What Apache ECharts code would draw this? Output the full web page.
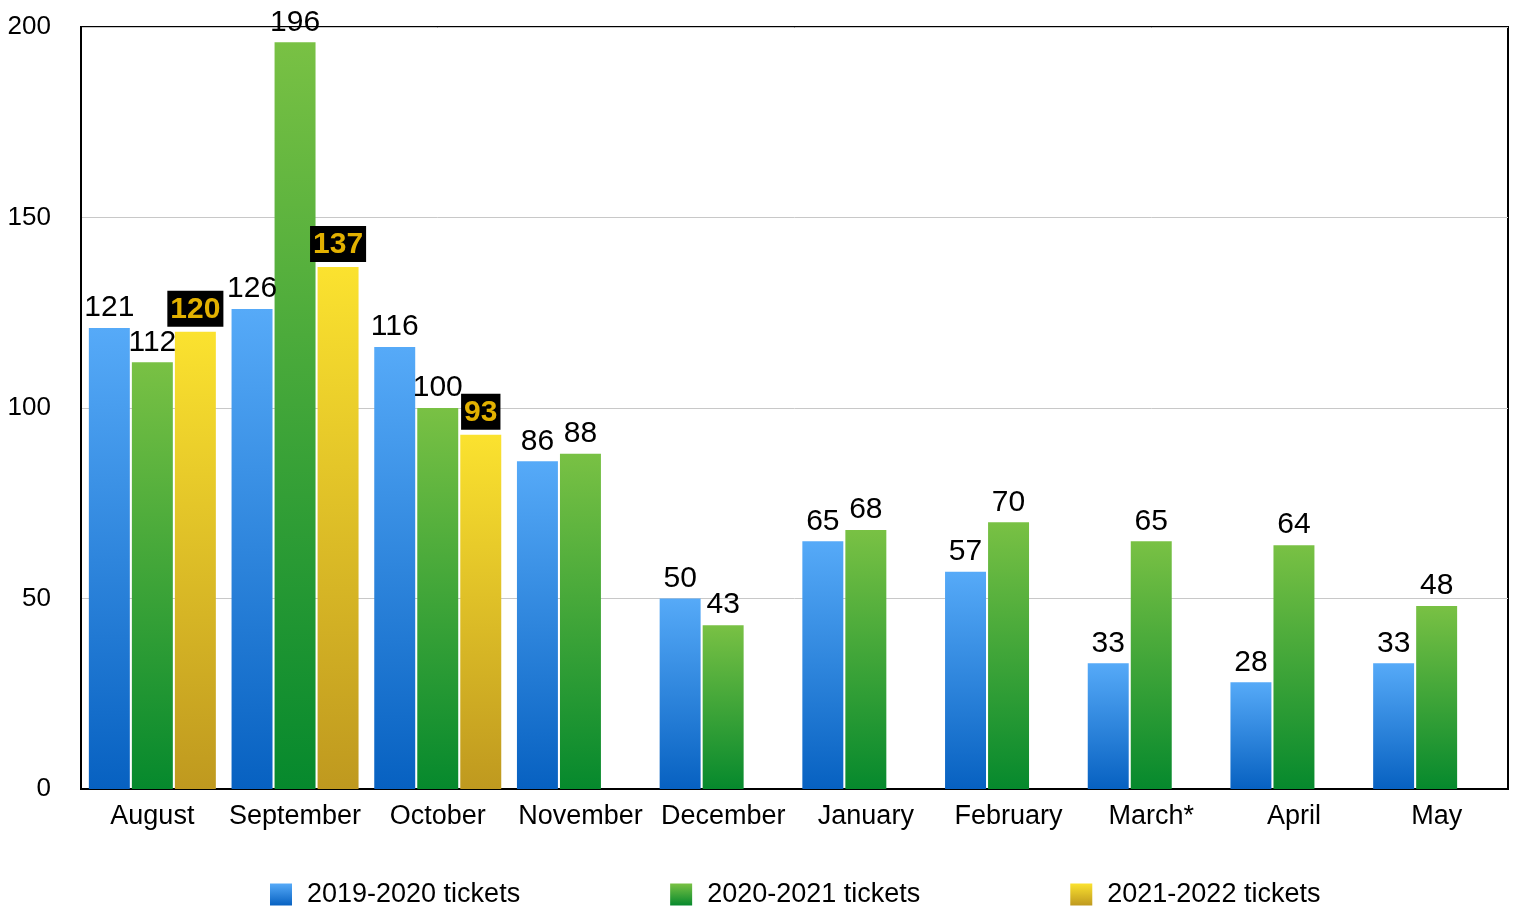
<!DOCTYPE html>
<html>
<head>
<meta charset="utf-8">
<script src="https://cdn.jsdelivr.net/npm/echarts@6/dist/echarts.min.js"></script>
<style>
html,body{margin:0;padding:0;background:#fff;}
#chart{width:1515px;height:907px;}
</style>
</head>
<body>
<div id="chart"></div>
<script>
const categories = ['August','September','October','November','December','January','February','March*','April','May'];
const seriesNames = ['2019-2020 tickets','2020-2021 tickets','2021-2022 tickets'];
const tickets1920 = [121,126,116,86,50,65,57,33,28,33];
const tickets2021 = [112,196,100,88,43,68,70,65,64,48];
const tickets2122 = [120,137,93,null,null,null,null,null,null,null];

const FONT = '"Liberation Sans", Arial, Helvetica, sans-serif';

function grad(top, bottom){
  return new echarts.graphic.LinearGradient(0,0,0,1,[{offset:0,color:top},{offset:1,color:bottom}]);
}

const plainLabel = {show:true, position:'top', distance:5, color:'#000', fontSize:30, fontFamily:FONT};

const chart = echarts.init(document.getElementById('chart'));
chart.setOption({
  animation:false,
  backgroundColor:'#fff',
  textStyle:{fontFamily:FONT},
  grid:{left:81, right:7, top:27, bottom:118, show:true, borderColor:'#000', borderWidth:2, backgroundColor:'transparent'},
  legend:{
    left:265, top:876, itemWidth:22, itemHeight:22, itemGap:150,
    icon:'rect',
    textStyle:{fontSize:27, color:'#000', fontFamily:FONT, padding:[0,0,0,10]},
    data:seriesNames
  },
  xAxis:{
    type:'category', data:categories,
    axisLine:{lineStyle:{color:'#000', width:2}},
    axisTick:{show:false},
    axisLabel:{fontSize:27, color:'#000', margin:14, interval:0, fontFamily:FONT}
  },
  yAxis:{
    type:'value', min:0, max:200, interval:50,
    axisLine:{show:true, lineStyle:{color:'#000', width:2}},
    axisTick:{show:false},
    axisLabel:{fontSize:26, color:'#000', margin:30, fontFamily:FONT},
    splitLine:{lineStyle:{color:'#c8c8c8', width:1}}
  },
  series:[
    {name:seriesNames[0], type:'bar', data:tickets1920, barGap:'5%', barCategoryGap:'11%',
     itemStyle:{color:grad('#56aaf8','#0761c1')}, label:plainLabel},
    {name:seriesNames[1], type:'bar', data:tickets2021, barGap:'5%', barCategoryGap:'11%',
     itemStyle:{color:grad('#79c144','#06892d')}, label:plainLabel},
    {name:seriesNames[2], type:'bar', data:tickets2122, barGap:'5%', barCategoryGap:'11%',
     itemStyle:{color:grad('#fbe22f','#bf991f')},
     label:{show:true, position:'top', distance:5, color:'#e3b100', fontWeight:'bold', fontSize:30,
            fontFamily:FONT, backgroundColor:'#000', padding:[4,3,2,3]}}
  ]
});
</script>
</body>
</html>
